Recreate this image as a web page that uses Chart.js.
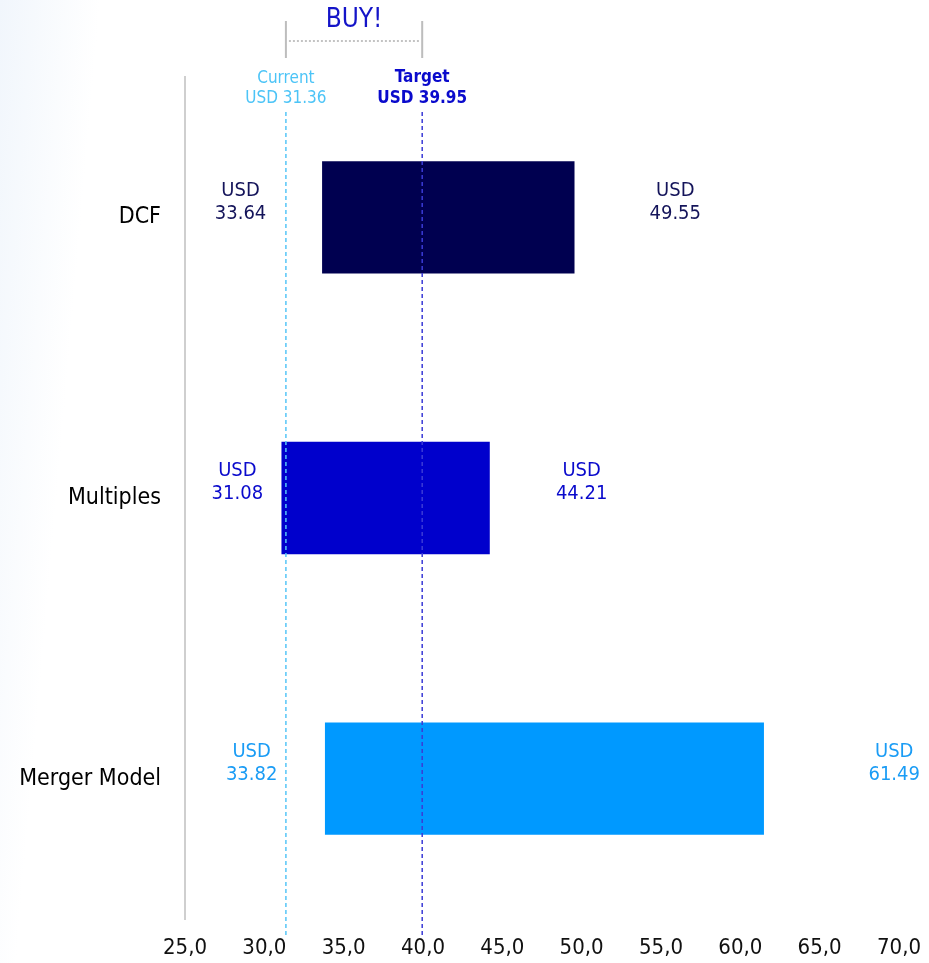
<!DOCTYPE html>
<html>
<head>
<meta charset="utf-8">
<script src="https://cdn.jsdelivr.net/npm/chart.js@4"></script>
<style>
html,body{margin:0;padding:0;background:#fff;}
body{width:929px;height:963px;overflow:hidden;background:linear-gradient(95deg,#f1f6fc 0px,#ffffff 100px);}
#wrap{position:relative;width:929px;height:963px;}
</style>
</head>
<body>
<div id="wrap"><canvas id="c" width="929" height="963"></canvas></div>
<script>
const categories = ["DCF", "Multiples", "Merger Model"];
const lowValues = [33.64, 31.08, 33.82];
const highValues = [49.55, 44.21, 61.49];
const barColors = ["#000050", "#0000CC", "#0099FF"];
const labelColors = ["#14145a", "#0a0acc", "#1a9cf5"];
const leftLabelAt = [28.5, 28.3, 29.2];
const rightLabelAt = [55.9, 50.0, 69.7];
const currentPrice = 31.36;
const targetPrice = 39.95;
const xMin = 25, xMax = 70, xStep = 5;

const FONT = "'DejaVu Sans Condensed', 'DejaVu Sans', sans-serif";

const overlay = {
  id: 'overlay',
  afterDatasetsDraw(chart) {
    const ctx = chart.ctx;
    const xs = chart.scales.x, ys = chart.scales.y;
    const cx = xs.getPixelForValue(currentPrice);
    const tx = xs.getPixelForValue(targetPrice);
    ctx.save();
    // dashed reference lines
    ctx.lineWidth = 1.5;
    ctx.setLineDash([4, 3]);
    ctx.strokeStyle = '#55c6f7';
    ctx.beginPath(); ctx.moveTo(cx, 112); ctx.lineTo(cx, 938); ctx.stroke();
    ctx.strokeStyle = '#3a3ad6';
    ctx.beginPath(); ctx.moveTo(tx, 112); ctx.lineTo(tx, 938); ctx.stroke();
    ctx.setLineDash([]);
    // Current / Target labels
    ctx.textAlign = 'center';
    ctx.textBaseline = 'middle';
    ctx.fillStyle = '#4cc4f7';
    ctx.font = "17px " + FONT;
    ctx.fillText('Current', cx, 79);
    ctx.fillText('USD ' + currentPrice.toFixed(2), cx, 99);
    ctx.fillStyle = '#0a0acc';
    ctx.font = "bold 17px " + FONT;
    ctx.fillText('Target', tx, 78);
    ctx.fillText('USD ' + targetPrice.toFixed(2), tx, 99);
    // BUY bracket
    ctx.strokeStyle = '#bdbdbd';
    ctx.lineWidth = 2;
    ctx.beginPath();
    ctx.moveTo(cx, 21); ctx.lineTo(cx, 58);
    ctx.moveTo(tx, 21); ctx.lineTo(tx, 58);
    ctx.stroke();
    ctx.strokeStyle = '#b0b0b0';
    ctx.lineWidth = 1.5;
    ctx.setLineDash([2, 2]);
    ctx.beginPath(); ctx.moveTo(cx + 3, 41); ctx.lineTo(tx - 3, 41); ctx.stroke();
    ctx.setLineDash([]);
    ctx.fillStyle = '#1414c8';
    ctx.font = "26px " + FONT;
    ctx.fillText('BUY!', (cx + tx) / 2, 20);
    // value labels
    ctx.font = "20px " + FONT;
    categories.forEach((c, i) => {
      const y = ys.getPixelForValue(i);
      ctx.fillStyle = labelColors[i];
      const lx = xs.getPixelForValue(leftLabelAt[i]);
      const rx = xs.getPixelForValue(rightLabelAt[i]);
      ctx.fillText('USD', lx, y - 27);
      ctx.fillText(lowValues[i].toFixed(2), lx, y - 4);
      ctx.fillText('USD', rx, y - 27);
      ctx.fillText(highValues[i].toFixed(2), rx, y - 4);
    });
    ctx.restore();
  }
};

new Chart(document.getElementById('c'), {
  type: 'bar',
  data: {
    labels: categories,
    datasets: [{
      data: categories.map((c, i) => [lowValues[i], highValues[i]]),
      backgroundColor: barColors,
      borderWidth: 0,
      categoryPercentage: 1,
      barPercentage: 0.4
    }]
  },
  options: {
    indexAxis: 'y',
    responsive: false,
    animation: false,
    layout: { padding: { top: 77, right: 24, left: 0, bottom: 0 } },
    plugins: { legend: { display: false }, tooltip: { enabled: false } },
    scales: {
      x: {
        type: 'linear',
        min: xMin, max: xMax,
        grid: { display: false },
        border: { display: false },
        ticks: {
          stepSize: xStep,
          padding: 8,
          color: '#111',
          font: { family: FONT, size: 22 },
          callback: v => v.toFixed(1).replace('.', ',')
        },
        afterFit: s => { s.height = 44; }
      },
      y: {
        grid: { display: false },
        border: { display: true, color: '#cfcfcf', width: 2 },
        ticks: {
          padding: 16,
          color: '#000',
          font: { family: FONT, size: 23 }
        },
        afterFit: s => { s.width = 185; }
      }
    }
  },
  plugins: [overlay]
});
</script>
</body>
</html>
